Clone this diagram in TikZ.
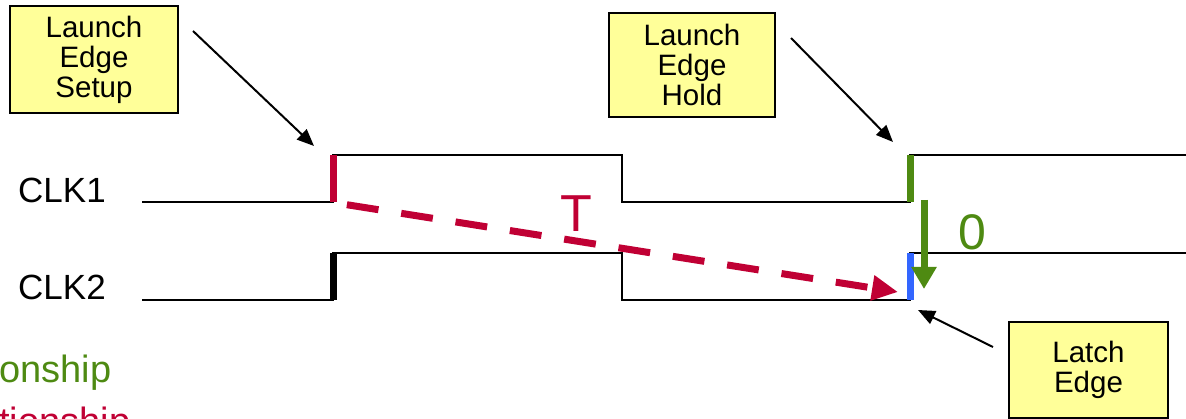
\documentclass[tikz,border=0pt]{standalone}
\usepackage{fontspec}
\setmainfont{Liberation Sans}
\usetikzlibrary{arrows.meta}
\definecolor{myred}{HTML}{C00034}
\definecolor{mygreen}{HTML}{4E8A12}
\definecolor{myblue}{HTML}{3366FF}
\definecolor{myyellow}{HTML}{FFFF99}
\tikzset{
  wave/.style={line width=2pt, black},
  note/.style={draw=black, line width=2pt, fill=myyellow, align=center, inner sep=0pt,
    font=\fontsize{29.5}{30}\selectfont},
  pointer/.style={line width=2pt, -{Triangle[length=17pt,width=14pt]}},
  edgemark/.style={line width=7pt},
  lbl/.style={font=\fontsize{35}{36}\selectfont, anchor=west, inner sep=0pt},
}
\begin{document}
\begin{tikzpicture}[x=1pt,y=-1pt]
\useasboundingbox (0,0) rectangle (1186,419);
% waveforms
\draw[wave] (142,202) -- (333,202) -- (333,155) -- (622,155) -- (622,202) -- (910,202) -- (910,155) -- (1186,155);
\draw[wave] (142,300) -- (333,300) -- (333,253) -- (622,253) -- (622,300) -- (910,300) -- (910,253) -- (1186,253);
% edge coordinates
\coordinate (r1b) at (333,202);
\coordinate (r1t) at (333,155);
\coordinate (r2b) at (333,300);
\coordinate (r2t) at (333,253);
\coordinate (h1b) at (910,202);
\coordinate (h1t) at (910,155);
\coordinate (l2b) at (910,300);
\coordinate (l2t) at (910,253);
% edge markers
\draw[edgemark, myred] (r1b) -- (r1t);
\draw[edgemark, black] (r2b) -- (r2t);
\draw[edgemark, mygreen] (h1b) -- (h1t);
\draw[edgemark, myblue] (l2b) -- (l2t);
% labels
\node[lbl] (clk1) at (18,190) {CLK1};
\node[lbl] (clk2) at (18,287) {CLK2};
% dashed setup arrow
\coordinate (ds) at (336,203);
\coordinate (de) at (898,292);
\draw[myred, line width=7pt, dash pattern=on 32pt off 23pt, dash phase=44pt, -{Triangle[length=26pt,width=24pt]}] (ds) -- (de);
\node[text=myred, font=\fontsize{52}{52}\selectfont, inner sep=0pt] (T) at (576,214) {T};
% hold arrow
\coordinate (gs) at (924,200);
\coordinate (ge) at (924,289);
\draw[mygreen, line width=7pt, -{Triangle[length=22pt,width=24pt]}] (gs) -- (ge);
\node[text=mygreen, font=\fontsize{50}{50}\selectfont, inner sep=0pt] (zero) at (972,232) {0};
% notes
\node[note, minimum width=168pt, minimum height=107pt] (n1) at (94,59.5) {Launch\\Edge\\Setup};
\node[note, minimum width=166pt, minimum height=104pt] (n2) at (692,65) {Launch\\Edge\\Hold};
\node[note, minimum width=159pt, minimum height=96pt] (n3) at (1088.5,370) {Latch\\Edge};
\coordinate (a1s) at (193,31);
\coordinate (a2s) at (791,38);
\coordinate (a3s) at (993,347);
\coordinate (a1e) at (314,146);
\coordinate (a2e) at (893,142);
\coordinate (a3e) at (918,310);
\draw[pointer] (a1s) -- (a1e);
\draw[pointer] (a2s) -- (a2e);
\draw[pointer] (a3s) -- (a3e);
% cut-off legend text
\node[font=\fontsize{38}{38}\selectfont, text=mygreen, anchor=base west, inner sep=0pt] (leg1) at (-1,383) {onship};
\node[font=\fontsize{38}{38}\selectfont, text=myred, anchor=base west, inner sep=0pt] (leg2) at (-1,435) {tionship};
\end{tikzpicture}
\end{document}
